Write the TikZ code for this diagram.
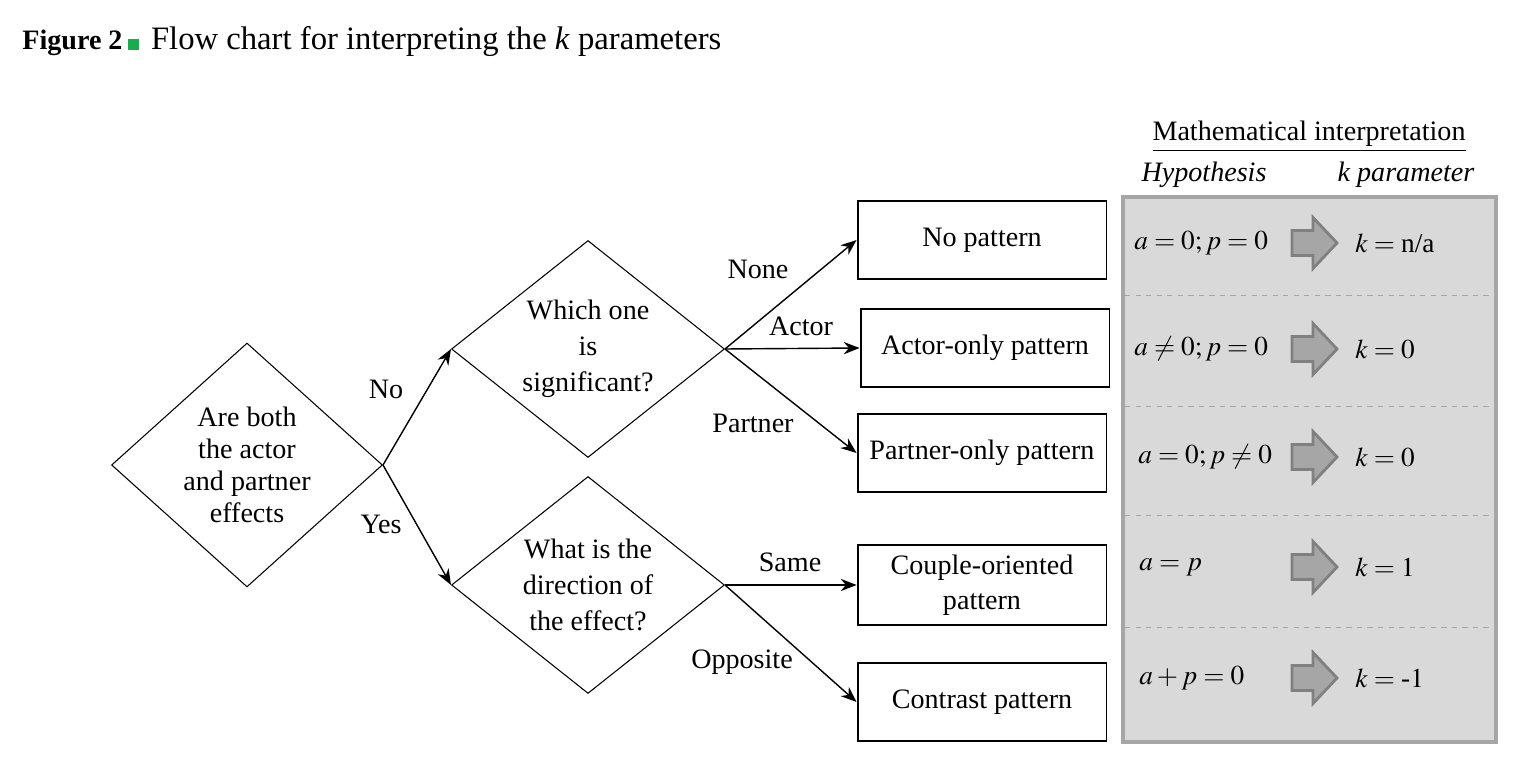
\documentclass[tikz,border=0pt]{standalone}
\usepackage{amsmath}
\usepackage{mathptmx}
\usepackage{fontspec}
\setmainfont{Liberation Serif}
\usepackage{xcolor}
\usetikzlibrary{shapes.geometric,arrows.meta,positioning,calc}

\definecolor{figgreen}{RGB}{26,171,79}

\begin{document}
\begin{tikzpicture}[x=0.02cm, y=-0.02cm, >={Stealth[length=9pt,width=7pt]}, font=\fontsize{16}{19}\selectfont]
    \tikzset{
        decision/.style={draw, diamond, line width=0.6pt, inner sep=-8pt, align=center},
        block/.style={draw, rectangle, line width=1.1pt, minimum width=4.98cm, minimum height=1.56cm, align=center, font=\fontsize{16}{20}\selectfont},
        answer/.style={inner sep=1pt},
        line/.style={draw, ->, line width=0.8pt},
        panel/.style={draw=black!35, fill=black!15, line width=1.8pt, rectangle, minimum width=7.46cm, minimum height=10.9cm},
        sep/.style={draw=black!35, dashed, line width=0.5pt},
        fatarrow/.style={draw=black!50, fill=black!35, line width=1.6pt, line join=miter}
    }
    \useasboundingbox (0,0) rectangle (1521,759);

    % title
    \node [anchor=base west, inner sep=0pt] (title) at (22,50)
        {{\fontsize{16}{18}\selectfont\bfseries Figure 2}\hspace{0.1cm}\textcolor{figgreen}{\rule{0.22cm}{0.22cm}}\hspace{0.25cm}{\fontsize{18.6}{22}\selectfont Flow chart for interpreting the \textit{k} parameters}};

    % questions
    \node [decision, minimum width=5.42cm, minimum height=4.88cm, font=\fontsize{16}{18.2}\selectfont] (both) at (247,465)
        {Are both\\the actor\\and partner\\effects};
    \node [decision, minimum width=5.46cm, minimum height=4.34cm, font=\fontsize{16}{20.6}\selectfont] (which) at (588,349)
        {Which one\\is\\significant?};
    \node [decision, minimum width=5.46cm, minimum height=4.34cm, font=\fontsize{16}{20.6}\selectfont] (dir) at (588,585)
        {What is the\\direction of\\the effect?};

    % patterns
    \node [block] (nopat) at (982,240) {No pattern};
    \node [block] (actor) at (985,348) {Actor-only pattern};
    \node [block] (partner) at (982,453) {Partner-only pattern};
    \node [block, minimum height=1.6cm] (couple) at (982,585) {Couple-oriented\\pattern};
    \node [block] (contrast) at (982,702) {Contrast pattern};

    \path [line] (both.east) -- (which.west);
    \path [line] (both.east) -- (dir.west);
    \path [line] (which.east) -- (nopat.west);
    \path [line] (which.east) -- (actor.west);
    \path [line] (which.east) -- (partner.west);
    \path [line] (dir.east) -- (couple.west);
    \path [line] (dir.east) -- (contrast.west);

    \node [answer] (no) at (386,389) {No};
    \node [answer] (yes) at (381,524) {Yes};
    \node [answer] (none) at (758,269) {None};
    \node [answer] (act) at (801,326) {Actor};
    \node [answer] (par) at (753,423) {Partner};
    \node [answer] (same) at (790,562) {Same};
    \node [answer] (opp) at (742,662) {Opposite};

    % mathematical interpretation
    \node (mathhead) at (1309,137) {\underline{Mathematical interpretation}};
    \node (hyphead) at (1204,175) {\textit{Hypothesis}};
    \node (khead) at (1406,175) {\textit{k parameter}};
    \node [panel] (panel) at (1309.5,469.5) {};
    \foreach \y in {295,406,515,627}
        \draw [sep] (1125,\y) -- (1494,\y);
    \foreach \y/\hx/\hyp/\kval [count=\i] in {
        243/1134/{a=0; p=0}/{k=\text{n/a}},
        349/1134/{a\neq 0; p=0}/{k=0},
        457/1138/{a=0; p\neq 0}/{k=0},
        567/1139/{a=p}/{k=1},
        678/1139/{a+p=0}/{k=\text{-}1}} {
        \node [anchor=west, inner sep=0pt] (hyp\i) at (\hx,\y) {\fontsize{15.5}{18}\selectfont$\hyp$};
        \coordinate (arr\i) at (1314,\y);
        \draw [fatarrow] ([shift={(-22,-12.5)}]arr\i) -- ++(21,0) -- ++(0,-13) -- ++(24,25.5)
            -- ++(-24,25.5) -- ++(0,-13) -- ++(-21,0) -- cycle;
        \node [anchor=west, inner sep=0pt] (k\i) at (1355,\y) {\fontsize{15.5}{18}\selectfont$\kval$};
    }
\end{tikzpicture}
\end{document}
